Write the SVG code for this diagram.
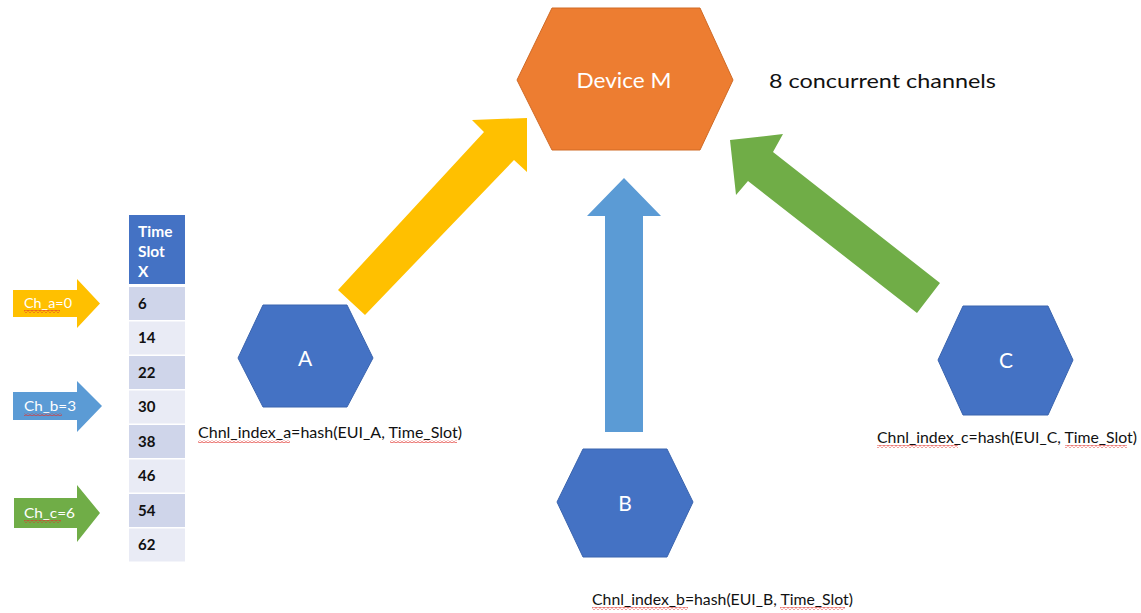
<svg xmlns="http://www.w3.org/2000/svg" width="1141" height="613" viewBox="0 0 1141 613">
<defs>
<style>
text{font-family:Lato,"Open Sans","Liberation Sans",sans-serif;}
.hex{fill:#4472C4;stroke:#3A64AE;stroke-width:1}
.hl{fill:#fff;font-size:21px;text-anchor:middle}
.lbl{fill:#111;font-size:15px}
.wl{fill:#fff;font-size:14px}
.hdr{fill:#fff;font-size:15.5px;font-weight:bold}
.cell{fill:#111;font-size:15px;font-weight:bold}
.dk{fill:#CFD5EA}
.lt{fill:#E9EBF5}
.sq{fill:url(#sqp)}
</style>
<pattern id="sqp" width="4" height="3" patternUnits="userSpaceOnUse">
<path d="M0,2.2 L2,0.6 L4,2.2" fill="none" stroke="#E0302A" stroke-width="0.9"/>
</pattern>
</defs>
<rect width="1141" height="613" fill="#fff"/>

<g id="connectors">
<polygon id="arrow-a" fill="#FFC000" points="338,290 484,132 472,120 527,118 527,172 514,160 365,315"/>
<polygon id="arrow-b" fill="#5B9BD5" points="605,432 605,216 587,216 624,178 661,216 643,216 643,432"/>
<polygon id="arrow-c" fill="#70AD47" points="730,140 783,134 773,152 940,283 917,313 748,181 736,195"/>
</g>

<g id="node-device-m">
<polygon fill="#ED7D31" stroke="#D06A25" stroke-width="1" points="517,80 552,8 700,8 733,80 700,150 552,150"/>
<text class="hl" x="624" y="88" textLength="95" lengthAdjust="spacingAndGlyphs">Device M</text>
</g>
<g id="note-channels">
<text x="769" y="88" font-size="20" fill="#111" textLength="227" lengthAdjust="spacingAndGlyphs">8 concurrent channels</text>
</g>

<g id="node-a">
<polygon class="hex" points="238,358 263,305 347,305 373,358 347,407 263,407"/>
<text class="hl" x="305" y="366">A</text>
<text class="lbl" x="198" y="438" textLength="264" lengthAdjust="spacingAndGlyphs">Chnl_index_a=hash(EUI_A, Time_Slot)</text>
<rect class="sq" x="198" y="440" width="92" height="3"/>
<rect class="sq" x="390" y="440" width="67" height="3"/>
</g>

<g id="node-b">
<polygon class="hex" points="557,502 583,449 667,449 693,502 667,557 583,557"/>
<text class="hl" x="625" y="511">B</text>
<text class="lbl" x="592" y="605" textLength="261" lengthAdjust="spacingAndGlyphs">Chnl_index_b=hash(EUI_B, Time_Slot)</text>
<rect class="sq" x="592" y="607" width="96" height="3"/>
<rect class="sq" x="780" y="607" width="65" height="3"/>
</g>

<g id="node-c">
<polygon class="hex" points="938,360 963,306 1048,306 1073,360 1048,415 963,415"/>
<text class="hl" x="1006" y="368">C</text>
<text class="lbl" x="877" y="443" textLength="260" lengthAdjust="spacingAndGlyphs">Chnl_index_c=hash(EUI_C, Time_Slot)</text>
<rect class="sq" x="877" y="445" width="81" height="3"/>
<rect class="sq" x="1065" y="445" width="62" height="3"/>
</g>

<g id="table-timeslot">
<rect x="129" y="215" width="56" height="69" fill="#4472C4"/>
<text class="hdr" x="138" y="237">Time</text>
<text class="hdr" x="138" y="257">Slot</text>
<text class="hdr" x="138" y="277">X</text>
<rect class="dk" x="129" y="287" width="56" height="33"/>
<rect class="lt" x="129" y="321.5" width="56" height="33"/>
<rect class="dk" x="129" y="356" width="56" height="33"/>
<rect class="lt" x="129" y="390.5" width="56" height="33"/>
<rect class="dk" x="129" y="425" width="56" height="33"/>
<rect class="lt" x="129" y="459.5" width="56" height="33"/>
<rect class="dk" x="129" y="494" width="56" height="33"/>
<rect class="lt" x="129" y="528.5" width="56" height="33"/>
<text class="cell" x="138" y="308.5">6</text>
<text class="cell" x="138" y="343">14</text>
<text class="cell" x="138" y="377.5">22</text>
<text class="cell" x="138" y="412">30</text>
<text class="cell" x="138" y="446.5">38</text>
<text class="cell" x="138" y="481">46</text>
<text class="cell" x="138" y="515.5">54</text>
<text class="cell" x="138" y="550">62</text>
</g>

<g id="node-ch-a">
<polygon fill="#FFC000" points="13,290 77,290 77,279 100,303.5 77,328 77,317 13,317"/>
<text class="wl" x="24" y="308" textLength="48" lengthAdjust="spacingAndGlyphs">Ch_a=0</text>
<rect class="sq" x="24" y="310" width="36" height="3"/>
</g>
<g id="node-ch-b">
<polygon fill="#5B9BD5" points="13,392 77,392 77,381 102,406 77,432 77,420 13,420"/>
<text class="wl" x="24" y="411" textLength="52" lengthAdjust="spacingAndGlyphs">Ch_b=3</text>
<rect class="sq" x="24" y="413" width="38" height="3"/>
</g>
<g id="node-ch-c">
<polygon fill="#70AD47" points="14,498 77,498 77,485 100,513 77,542 77,528 14,528"/>
<text class="wl" x="24" y="518" textLength="51" lengthAdjust="spacingAndGlyphs">Ch_c=6</text>
<rect class="sq" x="24" y="520" width="37" height="3"/>
</g>
</svg>
